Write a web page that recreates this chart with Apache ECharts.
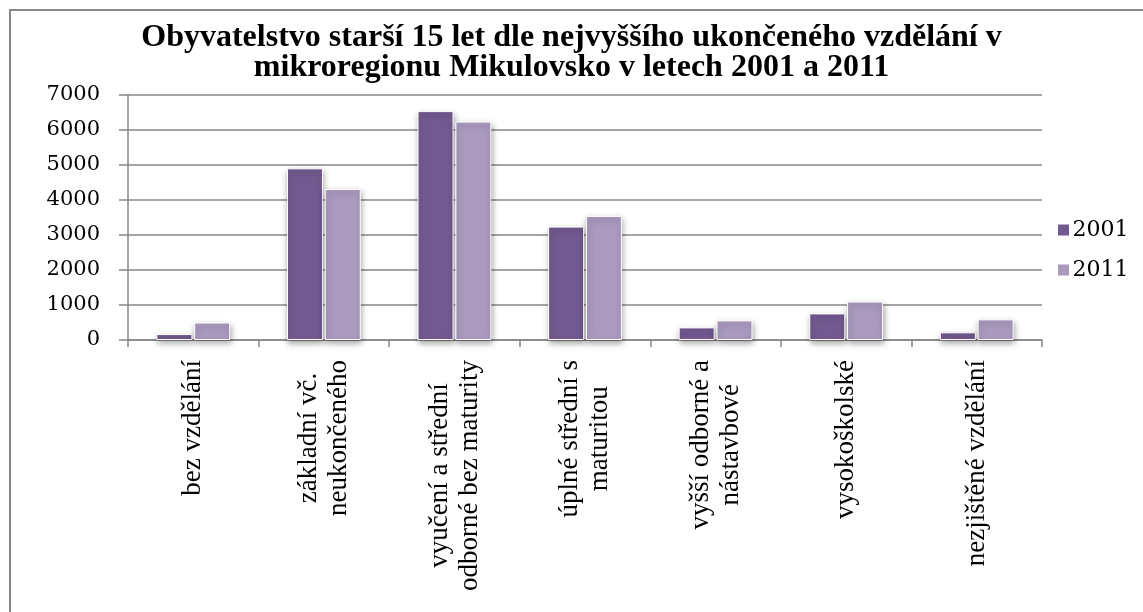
<!DOCTYPE html>
<html>
<head>
<meta charset="utf-8">
<script src="https://cdn.jsdelivr.net/npm/echarts@6/dist/echarts.min.js"></script>
<style>html,body{margin:0;padding:0;background:#fff}#c{width:1143px;height:612px}</style>
</head>
<body>
<div id="c"></div>
<script>
const titleText = 'Obyvatelstvo starší 15 let dle nejvyššího ukončeného vzdělání v\nmikroregionu Mikulovsko v letech 2001 a 2011';
const categories = ['bez vzdělání', 'základní vč.\nneukončeného', 'vyučení a střední\nodborné bez maturity', 'úplné střední s\nmaturitou', 'vyšší odborné a\nnástavbové', 'vysokoškolské', 'nezjištěné vzdělání'];
const seriesNames = ['2001', '2011'];
const values2001 = [170, 4905, 6540, 3240, 360, 760, 220];
const values2011 = [500, 4315, 6240, 3545, 560, 1100, 590];
const yTicks = [0, 1000, 2000, 3000, 4000, 5000, 6000, 7000];

const gray = '#878787';
const serif = '"Liberation Serif", "Times New Roman", serif';
const numFont = '"DejaVu Serif", serif';
const catFontSize = 27;

const chart = echarts.init(document.getElementById('c'), null, {renderer: 'canvas'});
const barStyle = (color) => ({
  color: color,
  borderColor: '#ffffff',
  borderWidth: 1,
  shadowBlur: 6,
  shadowColor: 'rgba(0,0,0,0.35)',
  shadowOffsetX: 1,
  shadowOffsetY: 3
});
chart.setOption({
  backgroundColor: '#ffffff',
  animation: false,
  graphic: [{
    type: 'rect',
    shape: {x: 10, y: 10, width: 1150, height: 620},
    style: {fill: 'none', stroke: gray, lineWidth: 2},
    silent: true
  }],
  title: {
    text: titleText,
    left: 'center',
    top: 18,
    textStyle: {fontFamily: serif, fontWeight: 'bold', fontSize: 32, lineHeight: 30, color: '#000'}
  },
  legend: {
    orient: 'vertical',
    left: 1052,
    top: 214,
    itemWidth: 12,
    itemHeight: 12,
    itemGap: 18,
    icon: 'rect',
    data: seriesNames,
    itemStyle: {shadowBlur: 0, shadowOffsetX: 0, shadowOffsetY: 0, borderWidth: 1, borderColor: '#fff'},
    textStyle: {fontFamily: numFont, fontSize: 22, lineHeight: 22, color: '#000', padding: [0, 0, 0, -2]}
  },
  grid: {left: 128, right: 101, top: 95, bottom: 272, containLabel: false},
  xAxis: {
    type: 'category',
    data: categories,
    axisLine: {show: true, lineStyle: {color: gray, width: 1.5}},
    axisTick: {show: true, length: 7, lineStyle: {color: gray, width: 1.5}},
    axisLabel: {
      interval: 0,
      rotate: 90,
      margin: 20,
      color: '#000',
      fontFamily: serif,
      fontSize: catFontSize,
      lineHeight: 30,
      formatter: (v) => v.split('\n').map(l => '{c|' + l + '}').join('\n'),
      rich: {c: {align: 'center'}}
    }
  },
  yAxis: {
    type: 'value',
    min: yTicks[0],
    max: yTicks[yTicks.length - 1],
    interval: yTicks[1] - yTicks[0],
    axisLine: {show: true, lineStyle: {color: gray, width: 1.5}},
    axisTick: {show: true, length: 9, lineStyle: {color: gray, width: 1.5}},
    splitLine: {show: true, lineStyle: {color: gray, width: 1.5}},
    axisLabel: {margin: 28, color: '#000', fontFamily: numFont, fontSize: 21, formatter: (v) => String(v)}
  },
  series: [
    {name: seriesNames[0], type: 'bar', data: values2001, barWidth: 36, barGap: '5%', itemStyle: barStyle('#725990')},
    {name: seriesNames[1], type: 'bar', data: values2011, barWidth: 36, barGap: '5%', itemStyle: barStyle('#A99ABE')}
  ]
});
</script>
</body>
</html>
